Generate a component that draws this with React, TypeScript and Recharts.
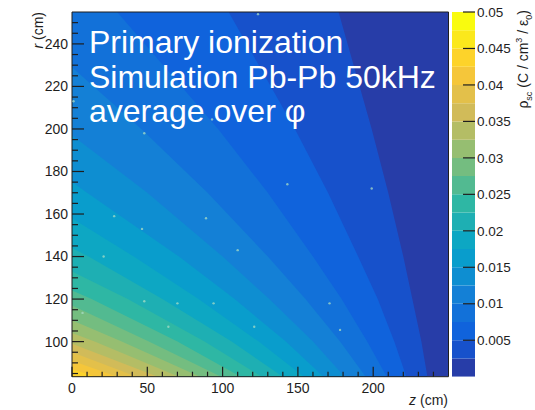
import { ComposedChart, Area, Scatter, XAxis, YAxis, ReferenceArea, BarChart, Bar } from 'recharts'

const FONT = '"Liberation Sans", Arial, Helvetica, sans-serif'
const INK = '#1e1e1e'

// rho_sc band edges in C / cm^3 / eps0, 20 contours from 0 to 0.05
const BAND_EDGES = [
  0, 0.0025, 0.005, 0.0075, 0.01, 0.0125, 0.015, 0.0175, 0.02, 0.0225, 0.025,
  0.0275, 0.03, 0.0325, 0.035, 0.0375, 0.04, 0.0425, 0.045, 0.0475, 0.05,
]

// iso-lines of rho_sc, one per band edge, as [z, r] in cm.
// rho is above the edge on the side towards small z and small r.
const ISO_LINES: [number, number][][] = [
  [[0, 255], [250, 255]],
  [[0, 255], [177, 255], [199, 200], [210, 170], [220, 140], [226, 120], [232, 100], [236, 83.5]],
  [[0, 255], [104, 255], [148, 200], [170, 170], [190, 140], [203, 120], [214, 100], [222, 83.5]],
  [[0, 255], [30, 255], [97, 200], [130, 170], [160, 140], [179, 120], [196, 100], [209, 83.5]],
  [[0, 229], [46, 200], [90, 170], [130, 140], [155, 120], [178, 100], [195, 83.5]],
  [[0, 197], [50, 170], [100, 140], [131, 120], [160, 100], [181, 83.5]],
  [[0, 175], [10, 170], [71, 140], [108, 120], [142, 100], [167, 83.5]],
  [[0, 158], [41, 140], [84, 120], [124, 100], [154, 83.5]],
  [[0, 144], [11, 140], [60, 120], [106, 100], [140, 83.5]],
  [[0, 133], [37, 120], [88, 100], [126, 83.5]],
  [[0, 124], [13, 120], [70, 100], [112, 83.5]],
  [[0, 117], [51, 100], [99, 83.5]],
  [[0, 110], [33, 100], [85, 83.5]],
  [[0, 104], [15, 100], [71, 83.5]],
  [[0, 99], [57, 83.5]],
  [[0, 95], [43, 83.5]],
  [[0, 91], [30, 83.5]],
  [[0, 87], [16, 83.5]],
  [[0, 84], [2, 83.5]],
]

// isolated hot bins (statistical fluctuations), [z, r] in cm
const SPECKS: [number, number][] = [
  [28, 159], [46.5, 153], [89, 158], [110, 143], [143, 174], [199, 172], [7, 113.5],
  [48, 119], [70, 118], [94, 118], [64, 107], [121, 107], [171, 118], [178, 105.5],
  [21, 140], [48, 198], [123.5, 254], [93, 204.5], [1, 213],
]

const Z_DOMAIN = [0, 250]
const R_DOMAIN = [83.5, 255]
const Z_TICKS = [0, 10, 20, 30, 40, 50, 60, 70, 80, 90, 100, 110, 120, 130, 140, 150, 160, 170, 180, 190, 200, 210, 220, 230, 240]
const Z_LABELS = [0, 50, 100, 150, 200]
const R_TICKS = [85, 90, 95, 100, 105, 110, 115, 120, 125, 130, 135, 140, 145, 150, 155, 160, 165, 170, 175, 180, 185, 190, 195, 200, 205, 210, 215, 220, 225, 230, 235, 240, 245, 250]
const R_LABELS = [100, 120, 140, 160, 180, 200, 220, 240]
const RHO_TICKS = [0.005, 0.01, 0.015, 0.02, 0.025, 0.03, 0.035, 0.04, 0.045, 0.05]

const NOTE_LINES = ['Primary ionization', 'Simulation Pb-Pb 50kHz', 'average over φ']

// ROOT kBird palette
const BIRD_STOPS = [0, 0.125, 0.25, 0.375, 0.5, 0.625, 0.75, 0.875, 1]
const BIRD_R = [0.2082, 0.0592, 0.078, 0.0232, 0.1802, 0.5301, 0.8186, 0.9956, 0.9764]
const BIRD_G = [0.1664, 0.3599, 0.5041, 0.6419, 0.7178, 0.7492, 0.7328, 0.7862, 0.9832]
const BIRD_B = [0.5293, 0.8684, 0.8385, 0.7914, 0.6425, 0.4662, 0.3499, 0.1968, 0.0539]

function bird(f: number) {
  let i = 0
  while (i < BIRD_STOPS.length - 2 && f > BIRD_STOPS[i + 1]) i++
  const t = (f - BIRD_STOPS[i]) / (BIRD_STOPS[i + 1] - BIRD_STOPS[i])
  const ch = (a: number[]) => Math.round(255 * (a[i] + (a[i + 1] - a[i]) * t))
  return `rgb(${ch(BIRD_R)},${ch(BIRD_G)},${ch(BIRD_B)})`
}

// colour of contour band k, picked from the 255-colour table like THistPainter does
const NBANDS = BAND_EDGES.length - 1
const bandColor = (k: number) => bird(Math.floor(((k + 0.99) * 255) / NBANDS) / 254)

function ZTick({ x, y, payload }: any) {
  const major = Z_LABELS.includes(payload.value)
  return (
    <g>
      <line x1={x} x2={x} y1={y} y2={y - (major ? 10 : 5)} stroke={INK} strokeWidth={1.2} />
      {major && (
        <text x={x} y={y + 16.5} textAnchor="middle" fontSize={14} fontFamily={FONT} fill={INK}>
          {payload.value}
        </text>
      )}
    </g>
  )
}

function RTick({ x, y, payload }: any) {
  const major = R_LABELS.includes(payload.value)
  return (
    <g>
      <line x1={x} x2={x + (major ? 12 : 6)} y1={y} y2={y} stroke={INK} strokeWidth={1.2} />
      {major && (
        <text x={x - 4} y={y} dy="0.35em" textAnchor="end" fontSize={14} fontFamily={FONT} fill={INK}>
          {payload.value}
        </text>
      )}
    </g>
  )
}

function RhoTick({ x, y, payload }: any) {
  return (
    <g>
      <line x1={x - 12} x2={x} y1={y} y2={y} stroke={INK} strokeWidth={1.2} />
      <text x={x + 2} y={y} dy="0.35em" textAnchor="start" fontSize={13.5} fontFamily={FONT} fill={INK}>
        {payload.value}
      </text>
    </g>
  )
}

const Speck = ({ cx, cy }: any) => <circle cx={cx} cy={cy} r={1.2} fill="#a8dcc4" fillOpacity={0.75} />

function DensityMap() {
  return (
    <ComposedChart width={535} height={410} margin={{ top: 12, right: 86.5, bottom: 32.3, left: 71 }}>
      <XAxis
        type="number"
        dataKey="z"
        domain={Z_DOMAIN}
        allowDataOverflow
        ticks={Z_TICKS}
        interval={0}
        height={1}
        tickSize={0}
        tickMargin={0}
        axisLine={false}
        tick={<ZTick />}
      />
      <YAxis
        type="number"
        dataKey="r"
        domain={R_DOMAIN}
        allowDataOverflow
        ticks={R_TICKS}
        interval={0}
        width={1}
        tickSize={0}
        tickMargin={0}
        axisLine={false}
        tick={<RTick />}
      />
      {ISO_LINES.map((pts, k) => (
        <Area
          key={k}
          data={pts.map(([z, r]) => ({ z, r }))}
          dataKey="r"
          type="linear"
          baseValue={R_DOMAIN[0]}
          stroke="none"
          fill={bandColor(k)}
          fillOpacity={1}
          dot={false}
          activeDot={false}
          isAnimationActive={false}
        />
      ))}
      <Scatter data={SPECKS.map(([z, r]) => ({ z, r }))} dataKey="r" shape={<Speck />} isAnimationActive={false} />
      <ReferenceArea x1={Z_DOMAIN[0]} x2={Z_DOMAIN[1]} y1={R_DOMAIN[0]} y2={R_DOMAIN[1]} fill="none" stroke={INK} strokeWidth={1} />
    </ComposedChart>
  )
}

function ColorBar() {
  // one stacked column, one segment per band
  const row: Record<string, number | string> = { name: 'rho' }
  BAND_EDGES.slice(1).forEach((e, i) => {
    row['b' + i] = e - BAND_EDGES[i]
  })
  return (
    <BarChart width={95} height={410} data={[row]} margin={{ top: 12, right: 59, bottom: 33.3, left: 12 }} barCategoryGap={0}>
      <XAxis dataKey="name" hide />
      <YAxis
        orientation="right"
        type="number"
        domain={[0, 0.05]}
        allowDataOverflow
        ticks={RHO_TICKS}
        interval={0}
        width={1}
        tickSize={0}
        tickMargin={0}
        axisLine={false}
        tick={<RhoTick />}
      />
      {BAND_EDGES.slice(1).map((_, i) => (
        <Bar key={i} dataKey={'b' + i} stackId="cb" fill={bandColor(i)} isAnimationActive={false} />
      ))}
    </BarChart>
  )
}

export default function App() {
  return (
    <div style={{ position: 'absolute', left: 0, top: 0, width: 535, height: 410, background: '#fff' }}>
      <div style={{ position: 'absolute', left: 0, top: 0 }}>
        <DensityMap />
      </div>
      <div style={{ position: 'absolute', left: 440, top: 0 }}>
        <ColorBar />
      </div>
      <svg width={535} height={410} style={{ position: 'absolute', left: 0, top: 0, pointerEvents: 'none' }} fontFamily={FONT}>
        {NOTE_LINES.map((line, i) => (
          <text key={i} x={89} y={53 + i * 34.5} fontSize={32} fill="#fff">
            {line}
          </text>
        ))}
        <text transform="translate(43, 12) rotate(-90)" textAnchor="end" fontSize={14} fill={INK}>
          <tspan fontStyle="italic">r</tspan> (cm)
        </text>
        <text x={448} y={405} textAnchor="end" fontSize={14} fill={INK}>
          <tspan fontStyle="italic">z</tspan> (cm)
        </text>
        <text transform="translate(528, 10) rotate(-90)" textAnchor="end" fontSize={14} fill={INK}>
          ρ<tspan fontSize={9} dy={4}>sc</tspan>
          <tspan dy={-4}> (C / cm</tspan>
          <tspan fontSize={9} dy={-6}>3</tspan>
          <tspan dy={6}> / ε</tspan>
          <tspan fontSize={9} dy={4}>0</tspan>
          <tspan dy={-4}>)</tspan>
        </text>
      </svg>
    </div>
  )
}
